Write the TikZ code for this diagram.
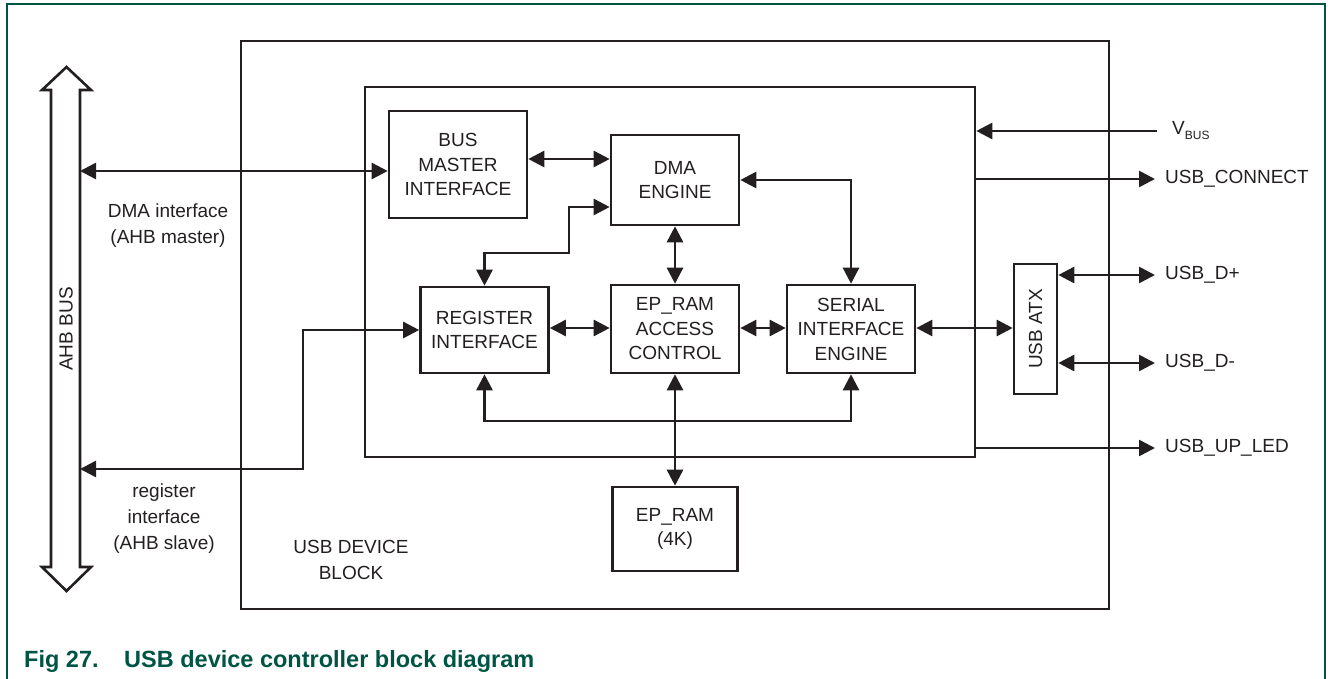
\documentclass[tikz,border=0pt]{standalone}
\usepackage{fontspec}
\setmainfont{Liberation Sans}
\usetikzlibrary{arrows.meta}
\definecolor{nxpgreen}{RGB}{0,84,68}
\definecolor{ink}{RGB}{35,31,32}
\tikzset{
  tipA/.tip={Triangle[length=16pt,width=16pt]},
  lw/.style={line width=2.6pt, draw=ink},
  frame/.style={draw, line width=2.6pt, draw=ink, inner sep=0pt},
  blk/.style={draw, line width=2.6pt, draw=ink, text=ink, align=center, inner sep=0pt,
              font=\fontsize{19}{24.5}\selectfont},
  conn/.style={line width=2.6pt, draw=ink, tipA-tipA},
  oneway/.style={line width=2.6pt, draw=ink, -tipA},
  lbl/.style={text=ink, align=center, inner sep=0pt, font=\fontsize{19}{26}\selectfont},
  pin/.style={text=ink, anchor=west, inner sep=0pt, inner xsep=10pt, font=\fontsize{19}{24}\selectfont},
}
\begin{document}
\begin{tikzpicture}[x=1pt,y=-1pt]
\useasboundingbox (0,0) rectangle (1328,679);
% page frame
\draw[nxpgreen, line width=1.2pt] (7,679) -- (7,4) -- (1325,4) -- (1325,679);

% outer blocks
\node[frame, minimum width=868pt, minimum height=568pt] (usbblk) at (675,325) {};
\node[frame, minimum width=610pt, minimum height=370pt] (core) at (670,272) {};

% AHB bus (hollow double arrow)
\draw[lw, fill=white] (51,90) -- (42,90) -- (66.5,67) -- (91,90) -- (80,90) -- (80,567)
  -- (91,567) -- (66.5,591) -- (42,567) -- (51,567) -- cycle;
\node[lbl, rotate=90] (ahb) at (66,329) {AHB BUS};

% functional blocks
\node[blk, minimum width=138pt, minimum height=107pt] (bmi) at (458,164.5) {BUS\\MASTER\\INTERFACE};
\node[blk, minimum width=128pt, minimum height=90pt] (dma) at (675,180) {DMA\\ENGINE};
\node[blk, minimum width=128pt, minimum height=86pt] (regi) at (484.5,330) {REGISTER\\INTERFACE};
\node[blk, minimum width=128pt, minimum height=88pt] (epac) at (675,329) {EP\_RAM\\ACCESS\\CONTROL};
\node[blk, minimum width=128pt, minimum height=88pt] (sie) at (851,329) {SERIAL\\INTERFACE\\ENGINE};
\node[blk, minimum width=125pt, minimum height=84pt] (epram) at (675,529) {EP\_RAM\\(4K)};
\node[blk, minimum width=43pt, minimum height=130pt] (atx) at (1035.5,329) {};
\node[lbl, rotate=90] (atxt) at (atx) {USB ATX};

% labels
\node[lbl] (dmalbl) at (168,226) {DMA interface\\(AHB master)};
\node[lbl] (reglbl) at (164,519) {register\\interface\\(AHB slave)};
\node[lbl] (blklbl) at (351,560) {USB DEVICE\\BLOCK};

% coordinates for free ends and rows
\coordinate (dmaIf) at (80,171);
\coordinate (regIf) at (80,469);
\coordinate (regBend) at (303,469);
\coordinate (rowA) at (0,159);
\coordinate (rowB) at (0,207);
\coordinate (k1) at (569,253);
\coordinate (rowC) at (0,328);
\coordinate (botrow) at (0,421);

% AHB side connectors
\draw[conn] (dmaIf) -- (dmaIf -| bmi.west);
\draw[conn] (regIf) -- (regBend) |- (regi.west);

% internal connectors
\draw[conn] (bmi.east |- rowA) -- (dma.west |- rowA);
\draw[conn] (dma.west |- rowB) -| (k1) -| (regi.north);
\draw[conn] (dma.south) -- (epac.north);
\draw[conn] (dma.east) -| (sie.north);
\draw[conn] (regi.east |- rowC) -- (epac.west |- rowC);
\draw[conn] (epac.east |- rowC) -- (sie.west |- rowC);
\draw[conn] (sie.east |- rowC) -- (atx.west |- rowC);
\draw[conn] (regi.south) |- (sie.south |- botrow) -- (sie.south);
\draw[conn] (epac.south) -- (epram.north);

% external pins
\node[pin, inner xsep=15pt] (vbus) at (1157,131) {V\raisebox{-5pt}{\fontsize{12}{12}\selectfont BUS}};
\node[pin] (conn) at (1155,179) {USB\_CONNECT};
\node[pin] (dp) at (1155,275) {USB\_D+};
\node[pin] (dm) at (1155,363) {USB\_D-};
\node[pin] (led) at (1155,448) {USB\_UP\_LED};

\draw[oneway] (vbus.west) -- (vbus.west -| core.east);
\draw[oneway] (conn.west -| core.east) -- (conn.west);
\draw[conn] (dp.west -| atx.east) -- (dp.west);
\draw[conn] (dm.west -| atx.east) -- (dm.west);
\draw[oneway] (led.west -| core.east) -- (led.west);

% caption
\node[anchor=base west, inner sep=0pt, text=nxpgreen, font=\bfseries\fontsize{23.5}{28}\selectfont] (cap) at (24,667)
  {\makebox[100pt][l]{Fig 27.}USB device controller block diagram};
\end{tikzpicture}
\end{document}
